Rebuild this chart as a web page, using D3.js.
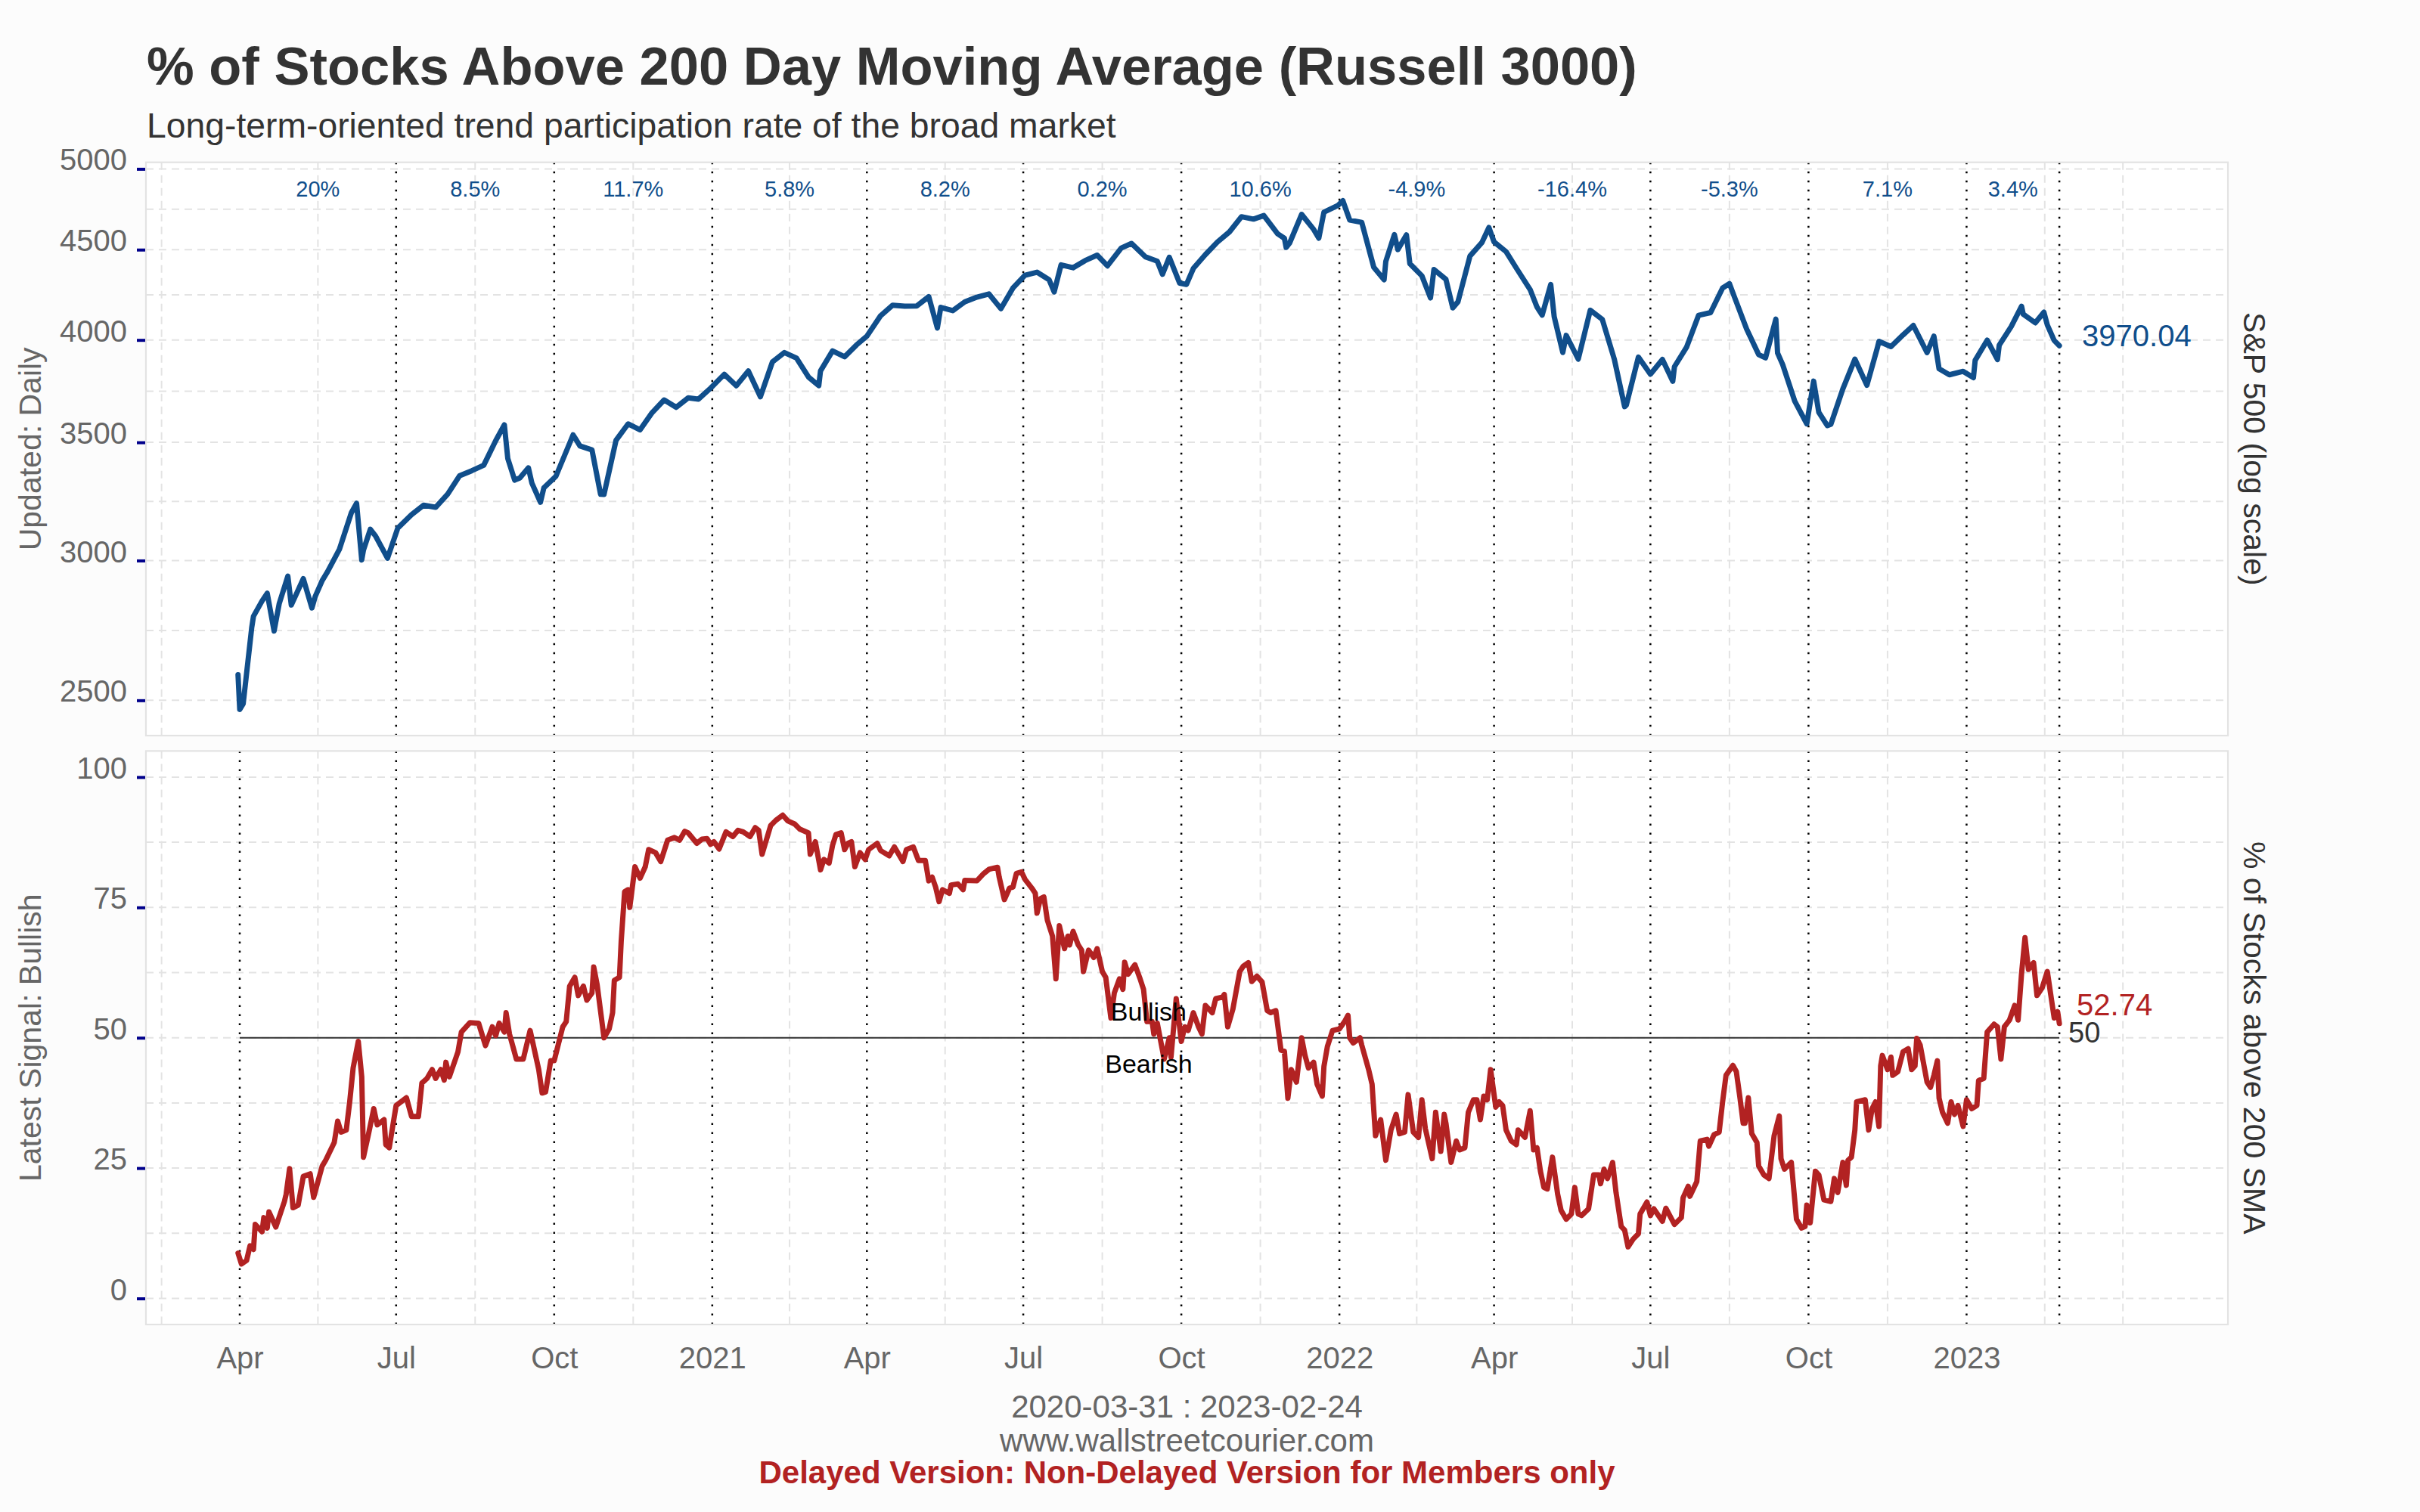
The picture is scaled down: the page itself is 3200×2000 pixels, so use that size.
<!DOCTYPE html>
<html><head><meta charset="utf-8">
<script src="https://cdn.jsdelivr.net/npm/d3@7"></script>
<style>
html,body{margin:0;padding:0;background:#fcfcfc;}
svg{display:block;font-family:"Liberation Sans",Arial,Helvetica,sans-serif;}
</style></head><body>
<svg id="chart" width="3200" height="2000"></svg>
<script>
// ---------------- DATA ----------------
const titleText = "% of Stocks Above 200 Day Moving Average (Russell 3000)";
const subtitleText = "Long-term-oriented trend participation rate of the broad market";
const footerLines = ["2020-03-31 : 2023-02-24", "www.wallstreetcourier.com", "Delayed Version: Non-Delayed Version for Members only"];

// S&P 500 closes (log scale panel)
const spxDates = [
"2020-03-31","2020-04-01","2020-04-03","2020-04-08","2020-04-09","2020-04-14","2020-04-17","2020-04-21","2020-04-24","2020-04-29",
"2020-05-01","2020-05-08","2020-05-13","2020-05-15","2020-05-19","2020-05-22","2020-05-29",
"2020-06-05","2020-06-08","2020-06-11","2020-06-12","2020-06-16","2020-06-19","2020-06-26",
"2020-07-02","2020-07-10","2020-07-17","2020-07-24","2020-07-31","2020-08-07","2020-08-14","2020-08-21","2020-08-28",
"2020-09-02","2020-09-04","2020-09-08","2020-09-11","2020-09-16","2020-09-18","2020-09-23","2020-09-25",
"2020-10-02","2020-10-09","2020-10-12","2020-10-16","2020-10-23","2020-10-28","2020-10-30",
"2020-11-06","2020-11-13","2020-11-20","2020-11-27","2020-12-04","2020-12-11","2020-12-18","2020-12-24","2020-12-31",
"2021-01-08","2021-01-15","2021-01-22","2021-01-29","2021-02-05","2021-02-12","2021-02-19","2021-02-26",
"2021-03-04","2021-03-05","2021-03-12","2021-03-19","2021-03-26","2021-04-01","2021-04-09","2021-04-16","2021-04-23","2021-04-30",
"2021-05-07","2021-05-12","2021-05-14","2021-05-21","2021-05-28","2021-06-04","2021-06-11","2021-06-18","2021-06-25",
"2021-07-02","2021-07-09","2021-07-16","2021-07-19","2021-07-23","2021-07-30","2021-08-06","2021-08-13","2021-08-19","2021-08-27",
"2021-09-02","2021-09-10","2021-09-17","2021-09-20","2021-09-24","2021-09-30","2021-10-04","2021-10-08","2021-10-15","2021-10-22","2021-10-29",
"2021-11-05","2021-11-12","2021-11-18","2021-11-26","2021-11-30","2021-12-01","2021-12-03","2021-12-10","2021-12-17","2021-12-20","2021-12-23","2021-12-31",
"2022-01-03","2022-01-07","2022-01-14","2022-01-21","2022-01-27","2022-01-28","2022-02-02","2022-02-04","2022-02-09","2022-02-11","2022-02-18","2022-02-23","2022-02-25",
"2022-03-04","2022-03-08","2022-03-11","2022-03-18","2022-03-25","2022-03-29","2022-04-01","2022-04-08","2022-04-14","2022-04-22","2022-04-26","2022-04-29",
"2022-05-04","2022-05-06","2022-05-11","2022-05-13","2022-05-20","2022-05-27","2022-06-03","2022-06-10","2022-06-16","2022-06-17","2022-06-24",
"2022-07-01","2022-07-08","2022-07-14","2022-07-15","2022-07-22","2022-07-29","2022-08-05","2022-08-12","2022-08-16","2022-08-19","2022-08-26",
"2022-09-02","2022-09-06","2022-09-12","2022-09-13","2022-09-16","2022-09-23","2022-09-30","2022-10-04","2022-10-07","2022-10-12","2022-10-14","2022-10-21","2022-10-28",
"2022-11-04","2022-11-10","2022-11-11","2022-11-18","2022-11-25","2022-12-01","2022-12-09","2022-12-13","2022-12-16","2022-12-22","2022-12-30",
"2023-01-05","2023-01-06","2023-01-13","2023-01-19","2023-01-20","2023-01-27","2023-02-02","2023-02-03","2023-02-10","2023-02-15","2023-02-17","2023-02-21","2023-02-24"
];
const spxValues = [
2584.59,2470.50,2488.65,2749.98,2789.82,2846.06,2874.56,2736.56,2836.74,2939.51,
2830.71,2929.80,2820.00,2863.70,2922.94,2955.45,3044.31,
3193.93,3232.39,3002.10,3041.31,3124.74,3097.74,3009.05,
3130.01,3185.04,3224.73,3215.63,3271.12,3351.28,3372.85,3397.16,3508.01,
3580.84,3426.96,3331.84,3340.97,3385.49,3319.47,3236.92,3298.46,
3348.44,3477.13,3534.22,3483.81,3465.39,3271.03,3269.96,
3509.44,3585.15,3557.54,3638.35,3699.12,3663.46,3709.41,3703.06,3756.07,
3824.68,3768.25,3841.47,3714.24,3886.83,3934.83,3906.71,3811.15,
3768.47,3841.94,3943.34,3913.10,3974.54,4019.87,4128.80,4185.47,4180.17,4181.17,
4232.60,4063.04,4173.85,4155.86,4204.11,4229.89,4247.44,4166.45,4280.70,
4352.34,4369.55,4327.16,4258.49,4411.79,4395.26,4436.52,4468.00,4405.80,4509.37,
4536.95,4458.58,4432.99,4357.73,4455.48,4307.54,4300.46,4391.34,4471.37,4544.90,4605.38,
4697.53,4682.85,4704.54,4594.62,4567.00,4513.04,4538.43,4712.02,4620.64,4568.02,4725.79,4766.18,
4796.56,4677.03,4662.85,4397.94,4326.51,4431.85,4589.38,4500.53,4587.18,4418.64,4348.87,4225.50,4384.65,
4328.87,4170.70,4204.31,4463.12,4543.06,4631.60,4545.86,4488.28,4392.59,4271.78,4175.20,4131.93,
4300.17,4123.34,3935.18,4023.89,3901.36,4158.24,4108.54,3900.86,3666.77,3674.84,3911.74,
3825.33,3899.38,3790.38,3863.16,3961.63,4130.29,4145.19,4280.15,4305.20,4228.48,4057.66,
3924.26,3908.19,4110.41,3932.69,3873.33,3693.23,3585.62,3790.93,3639.66,3577.03,3583.07,3752.75,3901.06,
3770.55,3956.37,3992.93,3965.34,4026.12,4076.57,3934.38,4019.65,3852.36,3822.39,3839.50,
3808.10,3895.08,3999.09,3898.85,3972.61,4070.56,4179.76,4136.48,4090.46,4147.60,4079.09,3997.34,3970.04
];

// % of stocks above 200-day SMA
const pctDates = [
"2020-03-31","2020-04-02","2020-04-05","2020-04-07","2020-04-09","2020-04-10","2020-04-14","2020-04-15","2020-04-17","2020-04-18","2020-04-22","2020-04-27","2020-04-28","2020-04-30",
"2020-05-02","2020-05-05","2020-05-08","2020-05-12","2020-05-14","2020-05-19","2020-05-21","2020-05-26","2020-05-28","2020-05-30",
"2020-06-02","2020-06-04","2020-06-06","2020-06-09","2020-06-11","2020-06-12","2020-06-15","2020-06-18","2020-06-20","2020-06-24","2020-06-25","2020-06-27",
"2020-07-01","2020-07-07","2020-07-10","2020-07-14","2020-07-16","2020-07-19","2020-07-22","2020-07-24","2020-07-27","2020-07-29","2020-07-30",
"2020-08-01","2020-08-06","2020-08-08","2020-08-13","2020-08-18","2020-08-22","2020-08-26","2020-08-28","2020-08-30",
"2020-09-02","2020-09-03","2020-09-05","2020-09-09","2020-09-13","2020-09-17","2020-09-22","2020-09-24","2020-09-26","2020-09-29",
"2020-10-01","2020-10-06","2020-10-08","2020-10-10","2020-10-13","2020-10-15","2020-10-18","2020-10-20","2020-10-23","2020-10-24","2020-10-26","2020-10-30",
"2020-11-02","2020-11-04","2020-11-05","2020-11-08","2020-11-09","2020-11-11","2020-11-13","2020-11-14","2020-11-17","2020-11-20","2020-11-23","2020-11-25","2020-11-29",
"2020-12-02","2020-12-06","2020-12-10","2020-12-13","2020-12-16","2020-12-18","2020-12-23","2020-12-26","2020-12-29","2020-12-31",
"2021-01-02","2021-01-05","2021-01-09","2021-01-13","2021-01-16","2021-01-19","2021-01-23","2021-01-26","2021-01-28","2021-01-30",
"2021-02-04","2021-02-07","2021-02-11","2021-02-14","2021-02-18","2021-02-21","2021-02-26","2021-02-27",
"2021-03-02","2021-03-05","2021-03-07","2021-03-10","2021-03-12","2021-03-14","2021-03-17","2021-03-19","2021-03-21","2021-03-23","2021-03-25","2021-03-28","2021-03-31",
"2021-04-02","2021-04-07","2021-04-09","2021-04-14","2021-04-17","2021-04-22","2021-04-24","2021-04-28",
"2021-05-01","2021-05-05","2021-05-07","2021-05-09","2021-05-11","2021-05-13","2021-05-15","2021-05-19","2021-05-20","2021-05-24","2021-05-27","2021-05-28",
"2021-06-04","2021-06-08","2021-06-11","2021-06-16","2021-06-17","2021-06-20","2021-06-23","2021-06-25","2021-06-27","2021-06-30",
"2021-07-02","2021-07-06","2021-07-08","2021-07-09","2021-07-11","2021-07-13","2021-07-15","2021-07-18","2021-07-20","2021-07-22","2021-07-25","2021-07-27","2021-07-28","2021-07-30",
"2021-08-02","2021-08-04","2021-08-05","2021-08-08","2021-08-11","2021-08-13","2021-08-16","2021-08-18","2021-08-21","2021-08-23","2021-08-26","2021-08-28","2021-08-29","2021-08-31",
"2021-09-04","2021-09-07","2021-09-09","2021-09-11","2021-09-14","2021-09-15","2021-09-17","2021-09-21","2021-09-24","2021-09-25","2021-09-28",
"2021-10-01","2021-10-03","2021-10-05","2021-10-08","2021-10-11","2021-10-13","2021-10-15","2021-10-19","2021-10-21","2021-10-25","2021-10-26","2021-10-28","2021-10-31",
"2021-11-04","2021-11-06","2021-11-09","2021-11-11","2021-11-14","2021-11-17","2021-11-20","2021-11-22","2021-11-25","2021-11-28","2021-11-30",
"2021-12-02","2021-12-04","2021-12-07","2021-12-10","2021-12-12","2021-12-14","2021-12-17","2021-12-19","2021-12-22","2021-12-23","2021-12-25","2021-12-28",
"2022-01-01","2022-01-04","2022-01-06","2022-01-07","2022-01-09","2022-01-13","2022-01-14","2022-01-18","2022-01-20","2022-01-22","2022-01-25","2022-01-28","2022-01-31",
"2022-02-03","2022-02-05","2022-02-08","2022-02-10","2022-02-13","2022-02-16","2022-02-18","2022-02-20","2022-02-24","2022-02-26",
"2022-03-01","2022-03-03","2022-03-04","2022-03-07","2022-03-10","2022-03-12","2022-03-15","2022-03-17","2022-03-20","2022-03-22","2022-03-24","2022-03-26","2022-03-28","2022-03-30",
"2022-04-02","2022-04-04","2022-04-06","2022-04-08","2022-04-11","2022-04-14","2022-04-15","2022-04-19","2022-04-22","2022-04-24","2022-04-26","2022-04-28","2022-04-30",
"2022-05-02","2022-05-05","2022-05-08","2022-05-10","2022-05-13","2022-05-16","2022-05-18","2022-05-20","2022-05-22","2022-05-26","2022-05-29",
"2022-06-01","2022-06-02","2022-06-04","2022-06-06","2022-06-09","2022-06-11","2022-06-14","2022-06-16","2022-06-18","2022-06-21","2022-06-24","2022-06-25","2022-06-29",
"2022-07-01","2022-07-03","2022-07-08","2022-07-10","2022-07-15","2022-07-19","2022-07-20","2022-07-23","2022-07-24","2022-07-28","2022-07-30",
"2022-08-03","2022-08-04","2022-08-07","2022-08-10","2022-08-12","2022-08-14","2022-08-18","2022-08-20","2022-08-22","2022-08-24","2022-08-25","2022-08-27","2022-08-29",
"2022-09-01","2022-09-02","2022-09-05","2022-09-08","2022-09-11","2022-09-14","2022-09-15","2022-09-17","2022-09-21","2022-09-24","2022-09-27","2022-09-29","2022-09-30",
"2022-10-02","2022-10-05","2022-10-07","2022-10-10","2022-10-14","2022-10-16","2022-10-18","2022-10-21","2022-10-23","2022-10-24","2022-10-26","2022-10-28","2022-10-29",
"2022-11-03","2022-11-05","2022-11-07","2022-11-09","2022-11-11","2022-11-12","2022-11-13","2022-11-16","2022-11-18","2022-11-19","2022-11-22","2022-11-25","2022-11-28","2022-11-30",
"2022-12-02","2022-12-03","2022-12-05","2022-12-09","2022-12-11","2022-12-13","2022-12-15","2022-12-16","2022-12-18","2022-12-21","2022-12-23","2022-12-25","2022-12-27","2022-12-30",
"2023-01-01","2023-01-04","2023-01-07","2023-01-08","2023-01-11","2023-01-13","2023-01-17","2023-01-19","2023-01-21","2023-01-23","2023-01-26","2023-01-29","2023-01-31",
"2023-02-02","2023-02-04","2023-02-06","2023-02-09","2023-02-11","2023-02-14","2023-02-17","2023-02-21","2023-02-23","2023-02-24"
];
const pctValues = [
8.7,6.6,7.3,10.1,9.4,14.2,12.8,15.5,13.5,16.6,13.7,18.6,20.0,24.9,
17.4,17.9,23.4,23.9,19.4,25.4,26.5,29.9,34.0,31.9,
32.3,37.7,44.2,49.3,42.5,27.1,31.6,36.4,33.3,34.3,29.5,28.9,
37.0,38.5,34.9,34.9,41.3,42.2,43.9,42.2,43.9,41.9,45.3,
42.5,47.3,51.1,52.9,52.8,48.5,52.1,50.4,52.8,
51.1,54.8,50.7,45.9,45.9,51.4,43.9,39.4,39.6,45.6,
45.6,52.1,53.1,59.9,61.6,58.1,59.9,57.2,58.6,63.6,60.2,50.0,
51.7,54.8,61.0,61.6,68.5,78.0,78.4,75.0,82.8,80.6,82.8,86.1,85.5,
83.8,87.9,88.4,87.9,89.6,89.3,87.3,88.1,88.2,87.1,
87.6,86.2,89.5,88.6,89.8,89.5,88.6,90.3,89.8,85.2,
90.7,91.7,92.7,91.6,91.0,90.0,89.3,85.2,
87.6,82.2,84.2,83.5,86.9,89.0,89.3,86.1,87.3,87.6,82.8,85.5,84.2,
86.1,87.3,85.9,84.9,86.6,83.8,86.1,86.6,
84.0,84.0,80.1,80.8,78.9,76.1,78.4,77.7,79.3,79.5,78.4,80.2,
80.1,81.5,82.3,82.7,80.8,76.5,78.7,78.9,81.5,81.8,
80.4,78.7,77.7,73.9,76.7,77.0,72.6,69.5,61.3,71.5,67.1,69.5,67.8,70.4,
67.8,66.8,62.7,66.8,65.4,67.1,62.7,61.6,53.8,58.6,61.3,59.3,64.5,62.2,
64.0,61.3,59.3,53.1,53.1,50.7,52.8,45.9,50.0,46.3,57.5,
49.3,52.1,51.4,54.8,52.1,50.7,56.2,54.8,57.5,57.8,58.3,52.1,55.5,
62.7,63.7,64.4,60.8,61.8,60.7,55.2,54.8,55.2,47.6,47.4,
38.4,43.9,41.5,50.0,46.6,44.2,45.3,41.1,38.8,44.5,48.3,51.4,
51.7,53.1,54.3,50.0,49.0,50.0,48.6,43.9,41.1,31.2,34.3,26.5,32.3,
35.3,31.6,31.9,39.1,31.9,30.9,38.1,32.6,26.8,35.7,
28.2,35.3,33.6,26.1,30.2,28.5,28.9,35.7,38.1,38.1,34.3,38.8,38.1,43.9,
36.7,37.7,37.0,32.3,30.2,29.5,32.3,30.9,36.0,28.5,28.9,24.4,21.3,
21.0,27.1,20.0,16.9,15.2,16.2,21.3,16.2,15.9,17.2,23.7,
23.7,22.0,24.8,23.0,26.1,20.3,13.8,13.1,9.9,11.4,12.4,16.2,18.5,
15.9,17.2,14.8,17.3,14.2,15.5,19.3,21.5,19.6,22.4,30.2,
30.5,29.2,31.4,31.9,37.7,42.8,44.7,43.5,38.8,33.6,33.6,38.5,31.6,
29.9,25.4,23.7,23.0,31.2,35.0,26.8,24.8,26.1,15.2,13.5,13.8,17.9,
14.5,24.4,23.7,18.9,18.6,23.0,20.3,26.1,21.7,26.5,27.1,32.3,37.7,
38.1,32.3,36.4,37.7,33.0,44.6,46.6,43.9,46.3,42.8,43.5,47.3,47.9,43.9,
44.6,49.9,48.6,41.5,40.5,42.8,45.6,38.4,35.7,33.6,37.7,35.3,37.0,33.0,
38.1,36.4,37.0,41.8,42.2,51.1,52.6,52.1,45.9,52.1,53.4,56.2,53.4,
62.3,69.2,63.1,64.4,58.1,59.6,62.7,53.8,55.0,52.74
];

// quarter boundaries (first data day, quarter starts, last data day) and quarterly S&P returns
const quarterBounds = ["2020-04-01","2020-07-01","2020-10-01","2021-01-01","2021-04-01","2021-07-01","2021-10-01","2022-01-01","2022-04-01","2022-07-01","2022-10-01","2023-01-01","2023-02-24"];
const quarterReturns = ["20%","8.5%","11.7%","5.8%","8.2%","0.2%","10.6%","-4.9%","-16.4%","-5.3%","7.1%","3.4%"];
const xTickDates = ["2020-04-01","2020-07-01","2020-10-01","2021-01-01","2021-04-01","2021-07-01","2021-10-01","2022-01-01","2022-04-01","2022-07-01","2022-10-01","2023-01-01"];
const topTicks = [2500,3000,3500,4000,4500,5000];
const bottomTicks = [0,25,50,75,100];
const signalLevel = 50;
const signalLabels = ["Bullish","Bearish"];

// ---------------- LAYOUT ----------------
const W = 3200, H = 2000;
const L = 193, R = 2946;
const TOP = {y0: 214.7, y1: 973};
const BOT = {y0: 993.4, y1: 1752};
const C = {blue:"#104E8B", red:"#B22222", grid:"#e3e3e3", tick:"#00008B", txt:"#666666", dark:"#333333"};
const FONT = '"Liberation Sans",Arial,Helvetica,sans-serif';

const parse = d3.utcParse("%Y-%m-%d");
const spx = spxDates.map((d,i)=>({date:parse(d), value:spxValues[i]})).filter(d=>d.value!=null);
const pct = pctDates.map((d,i)=>({date:parse(d), value:pctValues[i]})).filter(d=>d.value!=null);
const bounds = quarterBounds.map(parse);
const xMajors = xTickDates.map(parse);

const x = d3.scaleUtc()
  .domain([new Date(Date.UTC(2020,1,6,10)), new Date(Date.UTC(2023,5,2,2,24))])
  .range([L, R]);
const yTop = d3.scaleLog().domain([2387.6, 5043]).range([TOP.y1, TOP.y0]);
const yBot = d3.scaleLinear().domain([-5, 105]).range([BOT.y1, BOT.y0]);

// minor x breaks (midpoints between quarter breaks, ggplot style)
const stepX = xMajors[1] - xMajors[0];
const extX = [new Date(+xMajors[0]-stepX), ...xMajors, new Date(+xMajors[xMajors.length-1]+stepX)];
let xMinors = [];
for (let i=0;i<extX.length-1;i++) xMinors.push(new Date((+extX[i] + +extX[i+1])/2));
xMinors.push(extX[0], extX[extX.length-1]);
const [xd0, xd1] = x.domain();
xMinors = xMinors.filter(d => d > xd0 && d < xd1);

function minorsOf(ticks, geometric) {
  const out = [];
  for (let i=0;i<ticks.length-1;i++) out.push(geometric ? Math.sqrt(ticks[i]*ticks[i+1]) : (ticks[i]+ticks[i+1])/2);
  return out;
}
const topMinors = minorsOf(topTicks, true);
const botMinors = minorsOf(bottomTicks, false);

const svg = d3.select("#chart").attr("font-family", FONT);
svg.append("rect").attr("width", W).attr("height", H).attr("fill", "#fcfcfc");

// ---------------- TITLES ----------------
svg.append("text").attr("x", 194).attr("y", 112).attr("font-size", 70.5).attr("font-weight", "bold")
  .attr("fill", C.dark).text(titleText);
svg.append("text").attr("x", 194).attr("y", 182).attr("font-size", 46.3)
  .attr("fill", C.dark).text(subtitleText);

// ---------------- PANELS ----------------
function drawPanel(P, yScale, ticks, minors, dotted) {
  const g = svg.append("g");
  g.append("rect").attr("x", L).attr("y", P.y0).attr("width", R-L).attr("height", P.y1-P.y0).attr("fill", "#ffffff");
  const grid = g.append("g").attr("stroke", C.grid).attr("stroke-width", 2).attr("stroke-dasharray", "10,7").attr("fill", "none");
  grid.selectAll(".hy").data(ticks.concat(minors)).join("line")
    .attr("x1", L).attr("x2", R).attr("y1", d=>yScale(d)).attr("y2", d=>yScale(d));
  grid.selectAll(".vx").data(xMinors).join("line")
    .attr("x1", d=>x(d)).attr("x2", d=>x(d)).attr("y1", P.y0).attr("y2", P.y1);
  g.append("g").attr("stroke", "#000").attr("stroke-width", 2.5).attr("stroke-dasharray", "2.5,9.5")
    .selectAll("line").data(dotted).join("line")
    .attr("x1", d=>x(d)).attr("x2", d=>x(d)).attr("y1", P.y0).attr("y2", P.y1);
  return g;
}
function drawBorder(P) {
  svg.append("rect").attr("x", L).attr("y", P.y0).attr("width", R-L).attr("height", P.y1-P.y0)
    .attr("fill", "none").attr("stroke", "#e3e3e3").attr("stroke-width", 2.2);
}

const gTop = drawPanel(TOP, yTop, topTicks, topMinors, bounds.slice(1));
const gBot = drawPanel(BOT, yBot, bottomTicks, botMinors, bounds);

// signal level line
gBot.append("line").attr("x1", x(bounds[0])).attr("x2", x(bounds[bounds.length-1]))
  .attr("y1", yBot(signalLevel)).attr("y2", yBot(signalLevel)).attr("stroke", C.dark).attr("stroke-width", 2);

// lines
gTop.append("path").datum(spx).attr("fill", "none").attr("stroke", C.blue).attr("stroke-width", 7)
  .attr("stroke-linejoin", "round").attr("stroke-linecap", "round")
  .attr("d", d3.line().x(d=>x(d.date)).y(d=>yTop(d.value)));
gBot.append("path").datum(pct).attr("fill", "none").attr("stroke", C.red).attr("stroke-width", 7)
  .attr("stroke-linejoin", "round").attr("stroke-linecap", "round")
  .attr("d", d3.line().x(d=>x(d.date)).y(d=>yBot(d.value)));

drawBorder(TOP);
drawBorder(BOT);

// quarterly return labels
gTop.append("g").selectAll("text").data(quarterReturns).join("text")
  .attr("x", (d,i)=> (x(bounds[i]) + x(bounds[i+1]))/2)
  .attr("y", TOP.y0 + 45).attr("text-anchor", "middle").attr("font-size", 29).attr("fill", C.blue)
  .text(d=>d);

// Bullish / Bearish labels at middle of data range
const midDate = new Date((+spx[0].date + +spx[spx.length-1].date)/2);
svg.append("g").selectAll("text").data(signalLabels).join("text")
  .attr("x", x(midDate)).attr("y", (d,i)=> yBot(signalLevel + (i===0 ? 5 : -5)))
  .attr("dy", "0.35em").attr("text-anchor", "middle").attr("font-size", 34).attr("fill", "#000").text(d=>d);

// last value labels
const lastSpx = spx[spx.length-1], lastPct = pct[pct.length-1];
svg.append("text").attr("x", x(lastSpx.date) + 30).attr("y", yTop(lastSpx.value) + 1)
  .attr("font-size", 40).attr("fill", C.blue).text(d3.format(".2f")(lastSpx.value));
svg.append("text").attr("x", x(lastPct.date) + 23).attr("y", yBot(lastPct.value) - 11)
  .attr("font-size", 40).attr("fill", C.red).text(d3.format(".2f")(lastPct.value));
svg.append("text").attr("x", x(lastPct.date) + 12).attr("y", yBot(signalLevel) + 6)
  .attr("font-size", 38).attr("fill", C.dark).text(signalLevel);

// ---------------- AXES ----------------
function styleAxis(g) {
  g.select(".domain").remove();
  g.selectAll("text").attr("font-size", 40).attr("fill", C.txt).attr("font-family", FONT);
  g.selectAll(".tick line").attr("stroke", C.tick).attr("stroke-width", 4);
}
svg.append("g").attr("transform", `translate(${L-1},0)`)
  .call(d3.axisLeft(yTop).tickValues(topTicks).tickFormat(d3.format("d")).tickSize(11).tickPadding(13))
  .call(styleAxis).call(g=>g.selectAll("text").attr("dy", "0.04em"));
svg.append("g").attr("transform", `translate(${L-1},0)`)
  .call(d3.axisLeft(yBot).tickValues(bottomTicks).tickFormat(d3.format("d")).tickSize(11).tickPadding(13))
  .call(styleAxis).call(g=>g.selectAll("text").attr("dy", "0.04em"));
const fmtX = d => d.getUTCMonth() === 0 ? d3.utcFormat("%Y")(d) : d3.utcFormat("%b")(d);
svg.append("g").attr("transform", `translate(0,${BOT.y1})`)
  .call(d3.axisBottom(x).tickValues(xMajors).tickFormat(fmtX).tickSize(0).tickPadding(30))
  .call(styleAxis);

// axis titles
const midTop = (TOP.y0 + TOP.y1)/2, midBot = (BOT.y0 + BOT.y1)/2;
function vTitle(txt, cx, cy, rot, color) {
  svg.append("text").attr("transform", `translate(${cx},${cy}) rotate(${rot})`)
    .attr("text-anchor", "middle").attr("font-size", 41).attr("fill", color).text(txt);
}
vTitle("Updated: Daily", 54, midTop, -90, C.txt);
vTitle("Latest Signal: Bullish", 54, midBot, -90, C.txt);
vTitle("S&P 500 (log scale)", 2967, midTop, 90, C.dark);
vTitle("% of Stocks above 200 SMA", 2967, midBot, 90, C.dark);

// footer
const cx = (L + R)/2;
svg.append("text").attr("x", cx).attr("y", 1875).attr("text-anchor", "middle").attr("font-size", 42).attr("fill", C.txt).text(footerLines[0]);
svg.append("text").attr("x", cx).attr("y", 1920).attr("text-anchor", "middle").attr("font-size", 42).attr("fill", C.txt).text(footerLines[1]);
svg.append("text").attr("x", cx).attr("y", 1962).attr("text-anchor", "middle").attr("font-size", 42).attr("font-weight", "bold").attr("fill", C.red).text(footerLines[2]);
</script>
</body></html>
